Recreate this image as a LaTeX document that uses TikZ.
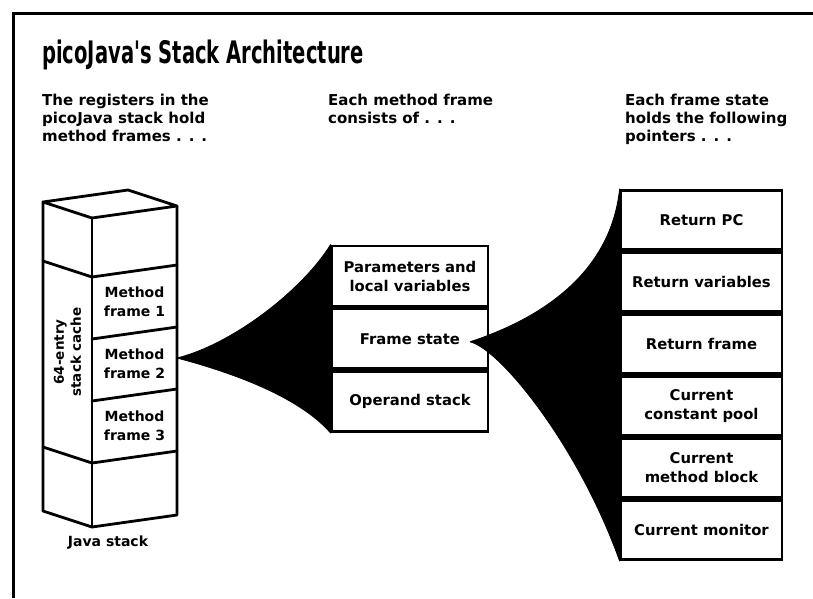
\documentclass[tikz,border=0pt]{standalone}
\usepackage{fontspec}
\setmainfont{DejaVu Sans}
\newfontfamily\titlefont{DejaVu Sans}[FakeStretch=0.63]
\usepackage{tikz}
\usetikzlibrary{positioning,calc}

\begin{document}
\begin{tikzpicture}[x=1pt, y=-1pt, font=\bfseries, node distance=0pt]
    \tikzstyle{heading}=[anchor=north west, inner sep=0pt, align=left,
                         font=\fontsize{15}{18}\selectfont\bfseries]
    \tikzstyle{part}=[draw, line width=2.8pt, minimum width=156pt,
                      minimum height=60pt, align=center,
                      font=\fontsize{14.8}{19}\selectfont\bfseries]
    \tikzstyle{pointer}=[part, minimum width=161pt, minimum height=59.2pt]
    \tikzstyle{cell}=[inner sep=0pt, align=center,
                      font=\fontsize{14}{19}\selectfont\bfseries]
    \tikzstyle{edge}=[line width=2.8pt, line join=round, line cap=round]
    \tikzstyle{fan}=[fill=black, draw=black, line width=0.8pt, line join=round]

    \useasboundingbox (0,0) rectangle (813,598);
    \draw[line width=3pt] (813,13) -- (13,13) -- (13,598);

    \node[anchor=base west, inner sep=0pt,
          font=\titlefont\fontsize{31}{34}\selectfont\bfseries] (title) at (42,63)
          {picoJava's Stack Architecture};

    \node[heading] (h1) at (42,94) {The registers in the\\picoJava stack hold\\method frames . . .};
    \node[heading] (h2) at (328,94) {Each method frame\\consists of . . .};
    \node[heading] (h3) at (625,94) {Each frame state\\holds the following\\pointers . . .};

    % Java stack: front edge e, left face l, right face r
    \foreach \lev [count=\i] in {218,277,339,401,463,527} {
        \coordinate (e\i) at (92,\lev);
        \coordinate (l\i) at ($(e\i)+(-49,-16)$);
        \coordinate (r\i) at ($(e\i)+(85,-12)$);
    }
    \coordinate (back) at ($(l1)+(85,-12)$);
    \draw[edge] (e1) -- (l1) -- (back) -- (r1) -- cycle;
    \draw[edge] (l1) -- (l6) -- (e6) -- (r6) -- (r1);
    \draw[edge] (e1) -- (e6);
    \foreach \i in {2,5} \draw[edge] (l\i) -- (e\i) -- (r\i);
    \foreach \i in {3,4} \draw[edge] (e\i) -- (r\i);

    \node[cell] (mf1) at ($(e2)!0.5!(r3)$) {Method\\frame 1};
    \node[cell] (mf2) at ($(e3)!0.5!(r4)$) {Method\\frame 2};
    \node[cell] (mf3) at ($(e4)!0.5!(r5)$) {Method\\frame 3};
    \node[cell, rotate=90, font=\fontsize{13.5}{17}\selectfont\bfseries] (cache)
          at ($(l2)!0.5!(e5)+(0,-10)$) {64-entry\\stack cache};
    \node[cell] (jstack) at (108,543) {Java stack};

    % method frame
    \node[part] (params) at (410,276) {Parameters and\\local variables};
    \node[part, below=of params] (fstate) {Frame state};
    \node[part, below=of fstate] (opstack) {Operand stack};

    % frame state pointers
    \node[pointer] (rpc) at (701.5,220) {Return PC};
    \node[pointer, below=of rpc] (rvars) {Return variables};
    \node[pointer, below=of rvars] (rframe) {Return frame};
    \node[pointer, below=of rframe] (cpool) {Current\\constant pool};
    \node[pointer, below=of cpool] (mblock) {Current\\method block};
    \node[pointer, below=of mblock] (monitor) {Current monitor};

    % fans
    \coordinate (tip1) at ($(r3)!0.5!(r4)$);
    \coordinate (tip2) at ($(fstate.center)+(60,3)$);
    \path[fan] (tip1) .. controls +(53,-13) and +(-30,48) .. (params.north west)
               -- (opstack.south west) .. controls +(-32,-37) and +(53,14) .. (tip1);
    \path[fan] (tip2) .. controls +(70,-23) and +(-9,85) .. (rpc.north west)
               -- (monitor.south west) .. controls +(-41,-115) and +(30,7) .. (tip2);
\end{tikzpicture}
\end{document}
